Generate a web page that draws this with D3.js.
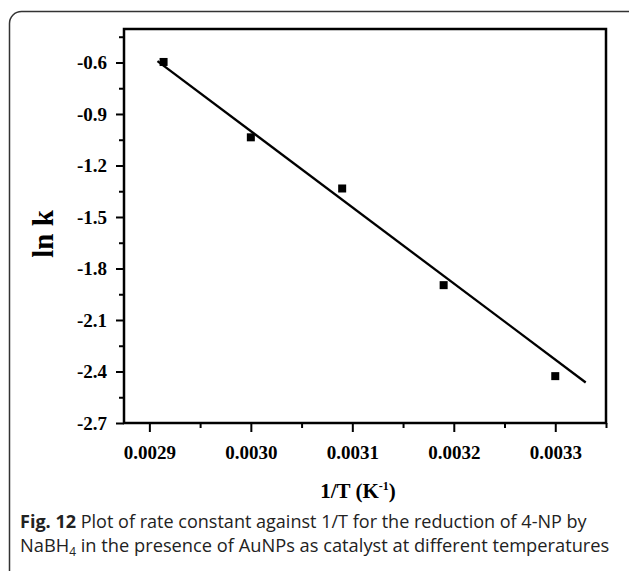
<!DOCTYPE html>
<html>
<head>
    <meta charset="utf-8" />
    <title>ln k vs 1/T</title>
    <script src="https://d3js.org/d3.v7.min.js"></script>
    <style>
        body { margin: 0; background: #fff; }
        .axis text { font-family: "Liberation Serif", "Times New Roman", serif; font-weight: bold; font-size: 19px; fill: #000; }
        .axis path { display: none; }
        .axis line { stroke: #000; stroke-width: 2; }
        .caption { font-family: "Open Sans", "Noto Sans", sans-serif; fill: #222; }
    </style>
</head>
<body>
    <div id="the-chart"></div>
    <script>
        // data
        var inv_t = [0.002914, 0.00300, 0.00309, 0.00319, 0.00330],
            ln_k = [-0.597, -1.036, -1.334, -1.897, -2.427];

        // fitted line end points
        var fit_x = [0.002908, 0.00333],
            fit_y = [-0.592, -2.464];

        var x_ticks = [0.0029, 0.0030, 0.0031, 0.0032, 0.0033],
            x_minor = [0.00295, 0.00305, 0.00315, 0.00325, 0.00335],
            y_ticks = [-0.6, -0.9, -1.2, -1.5, -1.8, -2.1, -2.4, -2.7],
            y_minor = [-0.45, -0.75, -1.05, -1.35, -1.65, -1.95, -2.25, -2.55];

        var svg = d3.select("#the-chart").append("svg")
            .attr("width", 629)
            .attr("height", 571),
            margin = { top: 29, right: 23, bottom: 148, left: 124 },
            width = +svg.attr("width") - margin.left - margin.right,
            height = +svg.attr("height") - margin.top - margin.bottom;

        // outer rounded box
        svg.append("rect")
            .attr("x", 9.5).attr("y", 11.5)
            .attr("width", 630).attr("height", 580)
            .attr("rx", 12)
            .attr("fill", "none")
            .attr("stroke", "#333")
            .attr("stroke-width", 1.5);

        var g = svg.append("g")
            .attr("transform", "translate(" + margin.left + "," + margin.top + ")");

        var x = d3.scaleLinear().domain([0.002875, 0.00335]).range([0, width]),
            y = d3.scaleLinear().domain([-2.7, -0.405]).range([height, 0]);

        g.append("g")
            .attr("class", "axis axis--x")
            .attr("transform", "translate(0," + height + ")")
            .call(d3.axisBottom(x).tickValues(x_ticks).tickSize(9).tickPadding(14)
                .tickFormat(function (d) { return d.toFixed(4); }));

        g.append("g")
            .attr("class", "axis axis--x-minor")
            .attr("transform", "translate(0," + height + ")")
            .call(d3.axisBottom(x).tickValues(x_minor).tickSize(5).tickFormat(""));

        g.append("g")
            .attr("class", "axis axis--y")
            .call(d3.axisLeft(y).tickValues(y_ticks).tickSize(8).tickPadding(9)
                .tickFormat(function (d) { return d.toFixed(1); }));

        g.append("g")
            .attr("class", "axis axis--y-minor")
            .call(d3.axisLeft(y).tickValues(y_minor).tickSize(5).tickFormat(""));

        g.selectAll(".axis--x-minor path, .axis--y-minor path").remove();

        // frame
        g.append("rect")
            .attr("width", width)
            .attr("height", height)
            .attr("fill", "none")
            .attr("stroke", "#000")
            .attr("stroke-width", 2.5);

        g.append("line")
            .attr("x1", x(fit_x[0])).attr("y1", y(fit_y[0]))
            .attr("x2", x(fit_x[1])).attr("y2", y(fit_y[1]))
            .attr("stroke", "#000")
            .attr("stroke-width", 2.3);

        g.selectAll("rect.point")
            .data(inv_t)
            .enter()
            .append("rect")
            .attr("class", "point")
            .attr("x", function (d) { return x(d) - 4; })
            .attr("y", function (d, i) { return y(ln_k[i]) - 4; })
            .attr("width", 8)
            .attr("height", 8)
            .attr("fill", "#000");

        // axis titles
        svg.append("text")
            .attr("transform", "translate(53,234) rotate(-90)")
            .attr("text-anchor", "middle")
            .style("font-family", "'Liberation Serif', 'Times New Roman', serif")
            .style("font-weight", "bold")
            .style("font-size", "29px")
            .text("ln k");

        var xt = svg.append("text")
            .attr("x", 358).attr("y", 498)
            .attr("text-anchor", "middle")
            .style("font-family", "'Liberation Serif', 'Times New Roman', serif")
            .style("font-weight", "bold")
            .style("font-size", "21px");
        xt.append("tspan").text("1/T (K");
        xt.append("tspan").attr("dy", -8).style("font-size", "12px").text("-1");
        xt.append("tspan").attr("dy", 8).text(")");

        // caption
        var c1 = svg.append("text").attr("class", "caption")
            .attr("x", 20).attr("y", 528).style("font-size", "17px");
        c1.append("tspan").style("font-weight", "bold").text("Fig. 12");
        c1.append("tspan").text(" Plot of rate constant against 1/T for the reduction of 4-NP by");

        var c2 = svg.append("text").attr("class", "caption")
            .attr("x", 20).attr("y", 552).style("font-size", "17px");
        c2.append("tspan").text("NaBH");
        c2.append("tspan").attr("dy", 4).style("font-size", "11px").text("4");
        c2.append("tspan").attr("dy", -4).text(" in the presence of AuNPs as catalyst at different temperatures");

        // fit caption lines to the widths seen in the figure
        [[c1, 567], [c2, 590]].forEach(function (p) {
            var w = p[0].node().getComputedTextLength();
            var fs = 17 * p[1] / w;
            p[0].style("font-size", fs + "px");
            p[0].selectAll("tspan").filter(function () { return this.textContent === "4"; })
                .style("font-size", (fs * 0.65) + "px");
        });
    </script>
</body>
</html>
